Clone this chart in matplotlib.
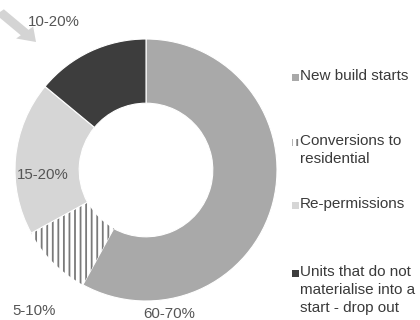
import matplotlib.pyplot as plt
from matplotlib.patches import Rectangle, FancyArrow

plt.rcParams['font.family'] = ['Liberation Sans', 'DejaVu Sans']
plt.rcParams['hatch.linewidth'] = 1.3

# wedges, clockwise from 12 o'clock
categories = ["New build starts", "Conversions to\nresidential", "Re-permissions",
              "Units that do not\nmaterialise into a\nstart - drop out"]
shares = [58, 9, 19, 14]
range_labels = ["60-70%", "5-10%", "15-20%", "10-20%"]
colors = ["#a9a9a9", "white", "#d6d6d6", "#3d3d3d"]
hatches = [None, "|||", None, None]

fig = plt.figure(figsize=(4.2, 3.2), dpi=100)
W, H = 420, 320

def fx(px):
    return px / W

def fy(py):
    return 1 - py / H

# donut centre ~(146,170) px, radius ~131 px
cx, cy, r = 146, 170, 131
ax = fig.add_axes([fx(cx - r), fy(cy + r), 2 * r / W, 2 * r / H])
wedges, _ = ax.pie(shares, startangle=90, counterclock=False, colors=colors,
                   wedgeprops=dict(width=0.49, edgecolor="white", linewidth=0.8))
for w, h in zip(wedges, hatches):
    if h:
        w.set_hatch(h)
        w.set_edgecolor("#7a7a7a")
        w.set_linewidth(0)
ax.set_xlim(-1, 1)
ax.set_ylim(-1, 1)
ax.set_aspect("auto")
ax.axis("off")

# range labels
label_pos = [(169, 314), (34, 311), (43, 175), (54, 22)]
for txt, (px, py) in zip(range_labels, label_pos):
    fig.text(fx(px), fy(py), txt, ha="center", va="center", fontsize=10.8,
             color="#555555")

# legend, drawn by hand to keep the irregular spacing
leg_y = [77, 142, 205, 273]
for name, col, h, py in zip(categories, colors, hatches, leg_y):
    fig.add_artist(Rectangle((fx(292), fy(py + 3.5)), 7 / W, 7 / H,
                             transform=fig.transFigure, facecolor=col,
                             edgecolor="#7a7a7a" if h else col, hatch=h,
                             linewidth=0))
    fig.text(fx(300), fy(py - 8), name, ha="left", va="top", fontsize=11,
             color="#3a3a3a", linespacing=1.35)

# faint arrow in the top-left corner
fig.add_artist(FancyArrow(fx(0), fy(12), fx(36), -(30 / H), width=0.025,
                          head_width=0.055, head_length=0.04,
                          transform=fig.transFigure, color="#d4d4d4",
                          linewidth=0, length_includes_head=True))

fig.savefig("out.png", dpi=100)
